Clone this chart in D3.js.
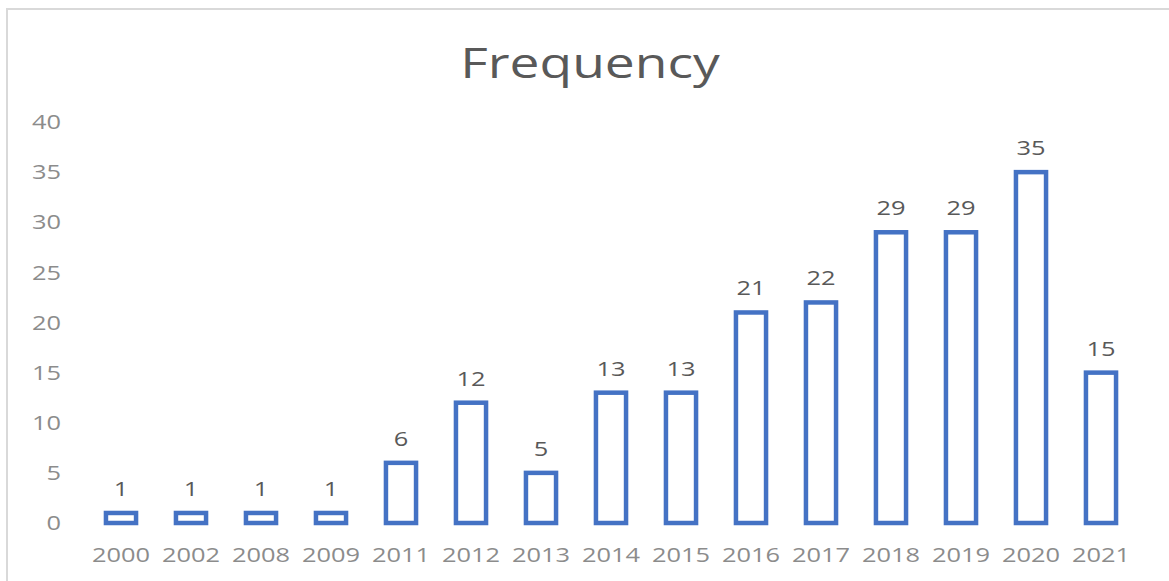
<!DOCTYPE html>
<html>
<head>
<meta charset="utf-8">
<script src="https://cdnjs.cloudflare.com/ajax/libs/d3/7.8.5/d3.min.js"></script>
<style>
  html, body { margin: 0; padding: 0; background: #fff; }
  text { font-family: "Open Sans", sans-serif; }
</style>
</head>
<body>
<script>
// chart data
var years = ["2000", "2002", "2008", "2009", "2011", "2012", "2013", "2014",
             "2015", "2016", "2017", "2018", "2019", "2020", "2021"];
var frequency = [1, 1, 1, 1, 6, 12, 5, 13, 13, 21, 22, 29, 29, 35, 15];
var yTicks = [0, 5, 10, 15, 20, 25, 30, 35, 40];
var chartTitle = "Frequency";

var width = 1169, height = 581;
var sx = 1.27; // the picture's text looks stretched sideways

var svg = d3.select("body").append("svg")
    .attr("width", width)
    .attr("height", height);

// chart area border
svg.append("rect")
    .attr("x", 7).attr("y", 9)
    .attr("width", 1200).attr("height", 600)
    .attr("fill", "none")
    .attr("stroke", "#d9d9d9")
    .attr("stroke-width", 2);

var x = d3.scaleBand()
    .domain(years)
    .range([86, 1136])
    .paddingInner(0.57)
    .paddingOuter(0.285);

var y = d3.scaleLinear()
    .domain([0, 40])
    .range([523, 122]);

// helper: stretched text
function label(g, tx, ty, str, size, color) {
  return g.append("text")
      .attr("transform", "translate(" + tx + "," + ty + ") scale(" + sx + ",1)")
      .attr("font-size", size)
      .attr("fill", color)
      .text(str);
}

// title
label(svg, 590, 78, chartTitle, 42, "#595959").attr("text-anchor", "middle");

// y axis labels
yTicks.forEach(function(t) {
  label(svg, 61, y(t), t, 20, "#8c8c8c")
      .attr("text-anchor", "end")
      .attr("dy", "0.36em");
});

// x axis labels
years.forEach(function(yr) {
  label(svg, x(yr) + x.bandwidth() / 2, 562, yr, 20, "#8c8c8c")
      .attr("text-anchor", "middle");
});

// bars
svg.append("g")
  .selectAll("rect")
  .data(frequency)
  .enter().append("rect")
    .attr("x", function(d, i) { return x(years[i]); })
    .attr("y", function(d) { return y(d); })
    .attr("width", x.bandwidth())
    .attr("height", function(d) { return y(0) - y(d); })
    .attr("fill", "#fff")
    .attr("stroke", "#4472c4")
    .attr("stroke-width", 4.5);

// value labels
var vals = svg.append("g");
frequency.forEach(function(d, i) {
  label(vals, x(years[i]) + x.bandwidth() / 2, y(d) - 17, d, 20, "#595959")
      .attr("text-anchor", "middle");
});
</script>
</body>
</html>
